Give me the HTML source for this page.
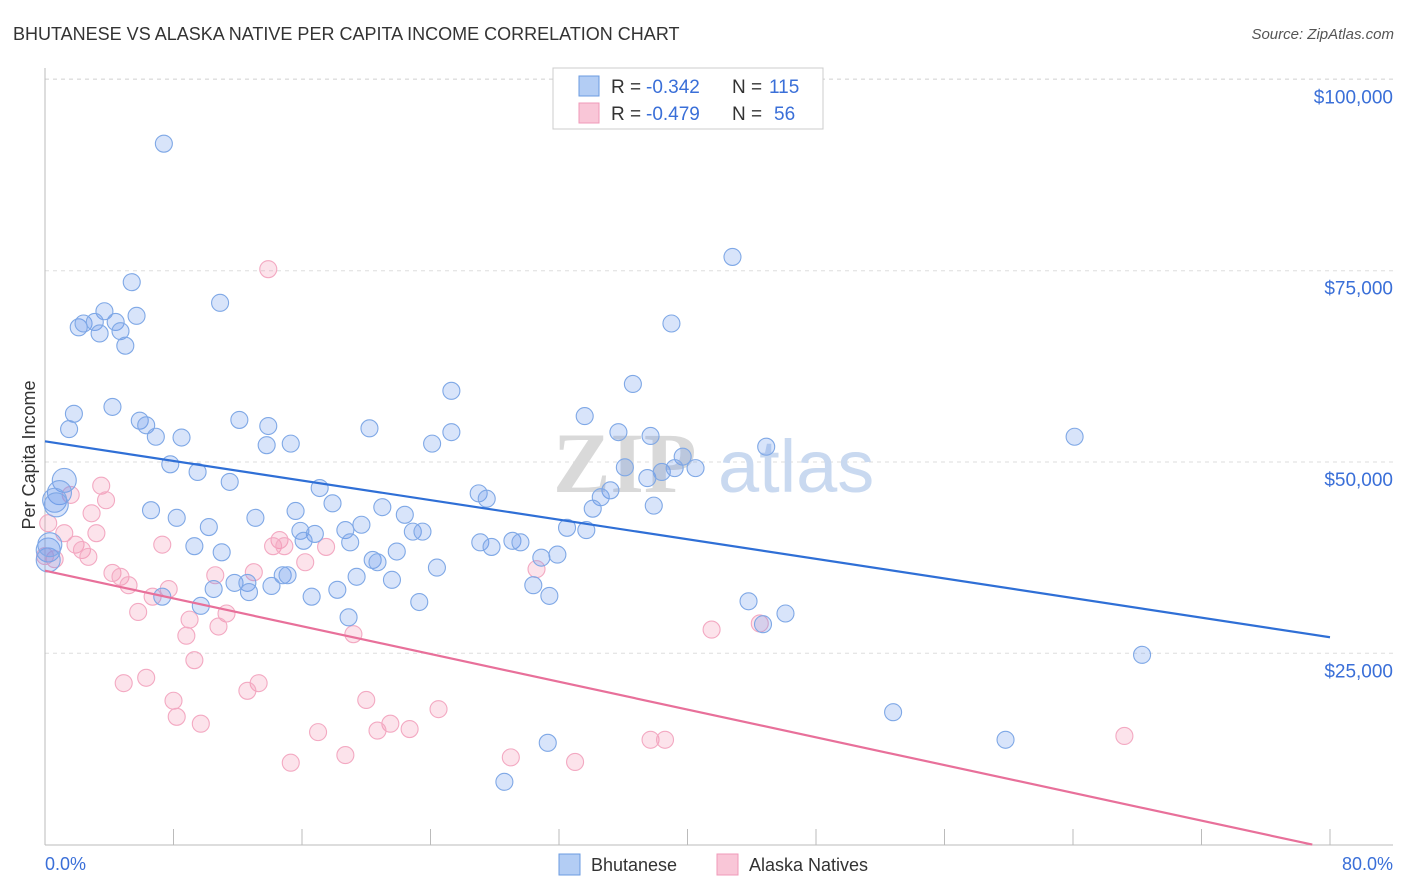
<!DOCTYPE html>
<html><head><meta charset="utf-8">
<style>
body{margin:0;background:#fff;font-family:"Liberation Sans",sans-serif;}
#wrap{position:relative;width:1406px;height:892px;overflow:hidden;}
</style></head>
<body>
<div id="wrap">
<svg id="chart" width="1406" height="892" xmlns="http://www.w3.org/2000/svg">
<text x="13" y="40" font-size="18" fill="#333">BHUTANESE VS ALASKA NATIVE PER CAPITA INCOME CORRELATION CHART</text>
<text x="1394" y="39" font-size="15" fill="#555" font-style="italic" text-anchor="end">Source: ZipAtlas.com</text>
<g id="grid"></g>
<g id="watermark">
<text x="553" y="492" font-size="86" font-family="Liberation Serif,serif" font-weight="bold" fill="#d9d9d9">ZIP</text>
<text x="718" y="492" font-size="74" fill="#c9d9f0">atlas</text>
</g>
<g id="axes"></g>
<g id="pinkDots"></g>
<g id="blueDots"></g>
<g id="lines"></g>
<text x="35" y="455" font-size="18" fill="#333" text-anchor="middle" transform="rotate(-90 35 455)">Per Capita Income</text>
<text x="45" y="870" font-size="18" fill="#3a6fd8">0.0%</text>
<text x="1393" y="870" font-size="18" fill="#3a6fd8" text-anchor="end">80.0%</text>
<g>
<rect x="553" y="68" width="270" height="61" fill="#fff" stroke="#ccc"/>
<rect x="579" y="76" width="20" height="20" fill="#b3cdf4" stroke="#6b9be0"/>
<rect x="579" y="103" width="20" height="20" fill="#f9c6d7" stroke="#f09ab8"/>
<text y="93" font-size="19" fill="#333"><tspan x="611">R =</tspan><tspan x="646" fill="#3a6fd8">-0.342</tspan><tspan x="732">N =</tspan><tspan x="769" fill="#3a6fd8">115</tspan></text>
<text y="120" font-size="19" fill="#333"><tspan x="611">R =</tspan><tspan x="646" fill="#3a6fd8">-0.479</tspan><tspan x="732">N =</tspan><tspan x="774" fill="#3a6fd8">56</tspan></text>
</g>
<g>
<rect x="559" y="854" width="21" height="21" fill="#b3cdf4" stroke="#6b9be0"/>
<text x="591" y="871" font-size="18" fill="#333">Bhutanese</text>
<rect x="717" y="854" width="21" height="21" fill="#f9c6d7" stroke="#f09ab8"/>
<text x="749" y="871" font-size="18" fill="#333">Alaska Natives</text>
</g>
</svg>
</div>
<script>
const yTicks=[25,50,75,100];
const yTickLabels=["$25,000","$50,000","$75,000","$100,000"];
const xTicks=[0,8,16,24,32,40,48,56,64,72,80];
const blueX=[7.4,42.8,5.4,10.9,3.7,5.7,2.1,2.4,3.1,4.4,3.4,4.7,5.0,39.0,36.6,25.3,4.2,1.8,5.9,12.1,13.9,33.6,20.2,1.5,6.3,6.9,8.5,13.8,15.3,24.1,25.3,35.7,37.7,44.9,64.1,1.2,0.9,7.8,9.5,11.5,36.1,39.7,37.5,38.4,39.2,40.5,17.1,27.0,27.5,35.2,34.6,0.6,0.7,6.6,8.2,10.2,13.1,15.6,17.9,21.0,22.4,37.9,34.1,15.9,16.8,18.7,19.7,19.0,22.9,23.5,32.5,33.7,9.3,11.0,16.1,27.1,27.8,29.1,29.6,21.9,30.9,31.9,20.4,20.7,24.4,19.4,14.8,15.1,11.8,12.6,14.1,12.7,10.5,18.2,16.6,21.6,30.4,31.4,23.3,9.7,7.3,18.9,43.8,46.1,44.7,68.3,52.8,59.8,31.3,28.6,0.2,0.2,0.3];
const blueY=[91.6,76.8,73.5,70.8,69.7,69.1,67.6,68.1,68.3,68.3,66.8,67.1,65.2,68.1,60.2,59.3,57.2,56.3,55.4,55.5,54.7,56.0,54.4,54.3,54.8,53.3,53.2,52.2,52.4,52.4,53.9,53.9,53.4,52.0,53.3,47.6,46.0,49.7,48.7,47.4,49.3,50.7,47.9,48.7,49.2,49.2,46.6,45.9,45.2,46.3,45.4,45.0,44.4,43.7,42.7,41.5,42.7,43.6,44.6,44.1,43.1,44.3,43.9,41.0,40.6,41.1,41.8,39.5,40.9,40.9,41.4,41.1,39.0,38.2,39.7,39.5,38.9,39.7,39.5,38.3,37.5,37.9,37.2,36.9,36.2,35.0,35.2,35.2,34.2,34.2,33.8,33.0,33.4,33.3,32.4,34.6,33.9,32.5,31.7,31.2,32.4,29.7,31.8,30.2,28.8,24.8,17.3,13.7,13.3,8.2,38.5,37.2,39.2];
const pinkX=[13.9,3.5,1.6,3.8,2.9,0.2,1.2,3.2,7.3,1.9,2.3,2.7,0.6,14.6,14.2,14.9,17.5,16.2,30.6,4.2,4.7,5.2,10.6,13.0,7.7,6.7,5.8,11.3,9.0,10.8,8.8,19.2,41.5,44.5,9.3,6.3,4.9,13.3,12.6,8.0,20.0,8.2,9.7,21.5,22.7,20.7,17.0,24.5,18.7,29.0,33.0,15.3,37.7,38.6,67.2,0.0];
const pinkY=[75.2,46.9,45.7,45.0,43.3,42.0,40.7,40.7,39.2,39.2,38.5,37.6,37.3,39.8,39.0,39.0,38.9,36.9,36.0,35.5,35.0,33.9,35.2,35.6,33.4,32.4,30.4,30.2,29.4,28.5,27.3,27.5,28.1,28.9,24.1,21.8,21.1,21.1,20.1,18.8,18.9,16.7,15.8,15.8,15.1,14.9,14.7,17.7,11.7,11.4,10.8,10.7,13.7,13.7,14.2,37.7];
const blueTrend=[52.7,27.1];
const pinkTrend=[35.8,-0.5];
const NS="http://www.w3.org/2000/svg";
const X0=45,X1=1330,YB=844.6,YPX=7.652;
function sx(v){return X0+(v/80)*(X1-X0);}
function sy(v){return YB-v*YPX;}
function mk(tag,attrs,parent){const e=document.createElementNS(NS,tag);for(const k in attrs)e.setAttribute(k,attrs[k]);parent.appendChild(e);return e;}
const grid=document.getElementById('grid'),axes=document.getElementById('axes');
yTicks.forEach((t,i)=>{
  const l=mk('line',{x1:45,x2:1393,y1:sy(t),y2:sy(t),stroke:'#ddd','stroke-dasharray':'4,4'},grid);
  
  
  const tx=mk('text',{x:1393,y:sy(t)+24,'font-size':19,fill:'#3a6fd8','text-anchor':'end'},axes);
  tx.textContent=yTickLabels[i];
  
  
});
const topGrid=mk('line',{x1:45,x2:1393,y1:79,y2:79,stroke:'#ddd','stroke-dasharray':'4,4'},grid);


const ya=mk('line',{x1:45,x2:45,y1:68,y2:845,stroke:'#bbb'},axes);


const xa=mk('line',{x1:45,x2:1393,y1:845,y2:845,stroke:'#bbb'},axes);


xTicks.forEach(t=>{
  const l=mk('line',{x1:sx(t),x2:sx(t),y1:829,y2:845,stroke:'#bbb'},axes);
  
  
});
const pg=document.getElementById('pinkDots');
pinkX.forEach((v,i)=>{
  const c=mk('circle',{cx:sx(v),cy:sy(pinkY[i]),r:8.5,fill:'rgba(244,143,177,0.25)',stroke:'#f3a9c2','stroke-width':1.1},pg);
  
  
});
const bg=document.getElementById('blueDots');
blueX.forEach((v,i)=>{
  const big=(v<1.3&&blueY[i]>36&&blueY[i]<48)?12:8.5;
  const c=mk('circle',{cx:sx(v),cy:sy(blueY[i]),r:big,fill:'rgba(100,149,237,0.25)',stroke:'#7fa8e6','stroke-width':1.1},bg);
  
  
});
const lg=document.getElementById('lines');
const bl=mk('line',{x1:sx(0),y1:sy(blueTrend[0]),x2:sx(80),y2:sy(blueTrend[1]),stroke:'#2f6fd6','stroke-width':2.2},lg);


const xz=80*pinkTrend[0]/(pinkTrend[0]-pinkTrend[1]);
const pl=mk('line',{x1:sx(0),y1:sy(pinkTrend[0]),x2:sx(xz),y2:sy(0),stroke:'#e8709a','stroke-width':2.2},lg);


</script>
</body></html>
